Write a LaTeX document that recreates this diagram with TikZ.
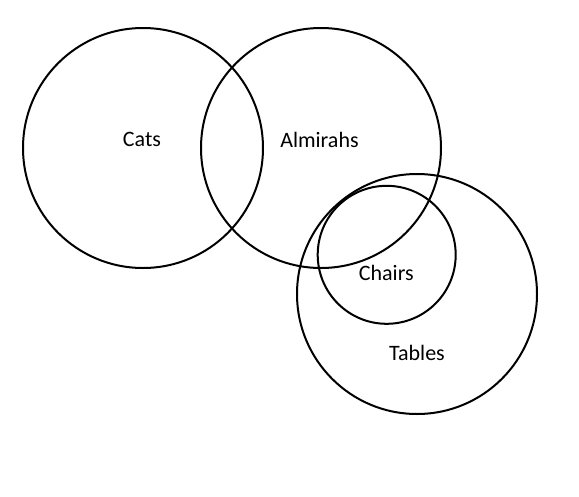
\documentclass[tikz,border=0pt]{standalone}
\usepackage{fontspec}
\setmainfont{Carlito}
\begin{document}
\begin{tikzpicture}[x=1pt, y=-1pt,
    setname/.style={font=\fontsize{22}{26}\selectfont, inner sep=0pt}]
    \useasboundingbox (0,0) rectangle (579,496);
    \begin{scope}[line width=2pt]
    \draw (143,148) circle (120);
    \draw (321,148) circle (120);
    \draw (417,294) circle (120);
    \draw (386.7,254.8) circle (69);
    \end{scope}
    \node[setname] (cats) at (142,139.5) {Cats};
    \node[setname] (almirahs) at (319.5,139.5) {Almirahs};
    \node[setname] (chairs) at (386.3,272.5) {Chairs};
    \node[setname] (tables) at (417,352.5) {Tables};
\end{tikzpicture}
\end{document}
